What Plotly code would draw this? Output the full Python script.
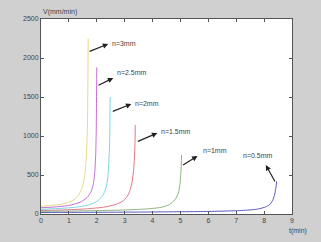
import plotly.graph_objects as go

# ---- data ----
t_3 = [0, 0.4, 0.8, 1.1, 1.3, 1.42, 1.5, 1.57, 1.62, 1.66, 1.68, 1.69]
v_3 = [100, 110, 130, 165, 220, 290, 370, 500, 700, 1050, 1600, 2250]

t_25 = [0, 0.5, 1.0, 1.4, 1.65, 1.8, 1.88, 1.93, 1.96, 1.98, 1.99, 2.0]
v_25 = [80, 90, 110, 150, 210, 290, 390, 540, 750, 1050, 1450, 1880]

t_2 = [0, 0.6, 1.2, 1.7, 2.0, 2.2, 2.32, 2.39, 2.43, 2.46, 2.47, 2.48]
v_2 = [60, 70, 85, 115, 160, 230, 320, 450, 650, 900, 1200, 1500]

t_15 = [0, 0.8, 1.6, 2.3, 2.7, 2.95, 3.1, 3.2, 3.27, 3.32, 3.35, 3.37, 3.38]
v_15 = [45, 52, 65, 90, 125, 170, 230, 310, 420, 560, 720, 900, 1140]

t_1 = [0, 1, 2, 3, 3.8, 4.3, 4.6, 4.8, 4.92, 4.98, 5.02, 5.04]
v_1 = [35, 38, 43, 52, 65, 85, 120, 180, 260, 380, 560, 756]

t_05 = [0, 2, 4, 6, 7, 7.5, 7.8, 8.05, 8.2, 8.3, 8.37, 8.42, 8.45]
v_05 = [20, 22, 26, 33, 42, 52, 65, 90, 120, 170, 240, 330, 420]

labels = ["n=3mm", "n=2.5mm", "n=2mm", "n=1.5mm", "n=1mm", "n=0.5mm"]
label_t = [2.48, 2.66, 3.31, 4.24, 5.72, 7.16]
label_v = [2192, 1808, 1423, 1064, 808, 756]
head_t = [2.41, 2.59, 3.24, 4.17, 5.61, 8.06]
head_v = [2179, 1744, 1410, 1038, 744, 628]
tail_t = [1.69, 2.01, 2.52, 3.42, 5.04, 8.42]
tail_v = [2077, 1641, 1308, 923, 615, 397]

x_ticks = [0, 1, 2, 3, 4, 5, 6, 7, 8, 9]
y_ticks = [0, 500, 1000, 1500, 2000, 2500]

series = [(t_3, v_3, "#e4dc86"), (t_25, v_25, "#c86ed6"), (t_2, v_2, "#7ad4e6"),
          (t_15, v_15, "#de7a84"), (t_1, v_1, "#8cb47c"), (t_05, v_05, "#5a5ac4")]

fig = go.Figure()
for (tt, vv, col), name in zip(series, labels):
    fig.add_trace(go.Scatter(x=tt, y=vv, mode="lines", name=name,
                             line=dict(color=col, width=1, shape="spline", smoothing=0.6)))

for i in range(len(labels)):
    fig.add_annotation(x=head_t[i], y=head_v[i], ax=tail_t[i], ay=tail_v[i],
                       xref="x", yref="y", axref="x", ayref="y", text="",
                       showarrow=True, arrowhead=2, arrowsize=0.9, arrowwidth=1.2,
                       arrowcolor="#222222")
    fig.add_annotation(x=label_t[i], y=label_v[i], xref="x", yref="y", text=labels[i],
                       showarrow=False, xanchor="left", yanchor="middle",
                       font=dict(size=7, color="#444444", family="Liberation Sans"))

fig.add_annotation(x=0, y=1, xref="paper", yref="paper", text="V(mm/min)",
                   showarrow=False, xanchor="left", yanchor="bottom", yshift=1,
                   font=dict(size=7, color="#444444", family="Liberation Sans"))
fig.add_annotation(x=1, y=0, xref="paper", yref="paper", text="t(min)",
                   showarrow=False, xanchor="center", yanchor="top", yshift=-11, xshift=6,
                   font=dict(size=7, color="#444444", family="Liberation Sans"))

axis_style = dict(showgrid=False, zeroline=False, showline=True, linecolor="#555555",
                  linewidth=1, mirror="ticks", ticks="inside", ticklen=3,
                  tickcolor="#555555", tickfont=dict(size=7, color="#444444",
                                                     family="Liberation Sans"))
fig.update_xaxes(range=[0, 9], tickvals=x_ticks, **axis_style)
fig.update_yaxes(range=[0, 2500], tickvals=y_ticks, **axis_style)

fig.update_layout(width=321, height=242, showlegend=False,
                  margin=dict(l=41, r=29, t=19, b=28),
                  paper_bgcolor="#d0d0d0", plot_bgcolor="#ffffff")

fig.write_html("out.html")
